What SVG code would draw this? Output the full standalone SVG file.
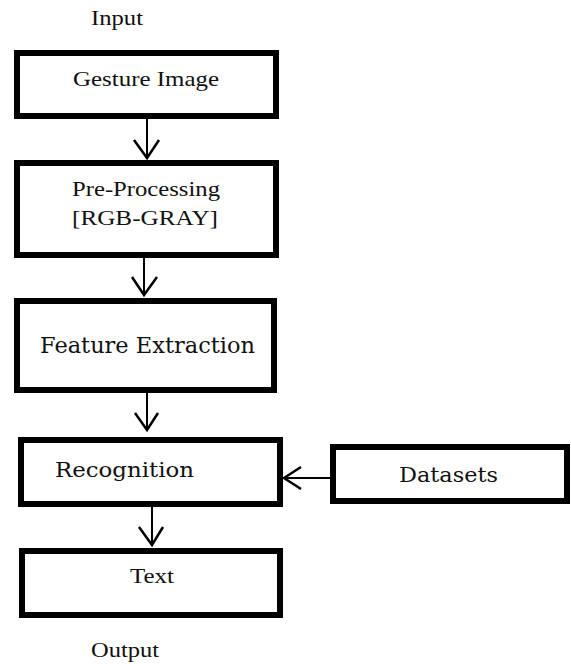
<svg xmlns="http://www.w3.org/2000/svg" width="571" height="664" viewBox="0 0 571 664">
<style>
.box{fill:#fff;stroke:#000;stroke-width:6}
.t{font-family:"Liberation Serif","Times New Roman",serif;font-size:21px;fill:#111}
.c{font-family:"DejaVu Serif","Liberation Serif",serif;font-size:21px;fill:#111}
.ln{stroke:#000;stroke-width:2;fill:none}
.hd{stroke:#000;stroke-width:2.5;fill:none;stroke-linejoin:miter}
</style>
<rect width="571" height="664" fill="#fff"/>
<text class="t" x="91" y="25" textLength="52" lengthAdjust="spacingAndGlyphs">Input</text>
<text class="t" x="91" y="657" textLength="68" lengthAdjust="spacingAndGlyphs">Output</text>
<g id="connectors">
<line class="ln" x1="147" y1="119" x2="147" y2="157"/>
<polyline class="hd" points="134,140 147,158 159,140"/>
<line class="ln" x1="144" y1="258" x2="144" y2="294"/>
<polyline class="hd" points="132,277 144,295 157,277"/>
<line class="ln" x1="147" y1="393" x2="147" y2="429"/>
<polyline class="hd" points="135,413 147,430 158,413"/>
<line class="ln" x1="152" y1="507" x2="152" y2="544"/>
<polyline class="hd" points="139,527 152,545 163,527"/>
<line class="ln" x1="331" y1="478" x2="284" y2="478"/>
<polyline class="hd" points="301,467 284,478 301,489"/>
</g>
<g id="gesture">
<rect class="box" x="17" y="53" width="259" height="63"/>
<text class="t" x="73" y="86" textLength="146" lengthAdjust="spacingAndGlyphs">Gesture Image</text>
</g>
<g id="preprocessing">
<rect class="box" x="17" y="163" width="259" height="92"/>
<text class="t" x="72" y="196" textLength="148" lengthAdjust="spacingAndGlyphs">Pre-Processing</text>
<text class="t" x="72" y="225" textLength="146" lengthAdjust="spacingAndGlyphs">[RGB-GRAY]</text>
</g>
<g id="feature">
<rect class="box" x="17" y="301" width="257" height="89"/>
<text class="c" x="40" y="353" font-size="23" textLength="215" lengthAdjust="spacingAndGlyphs" style="font-size:23px">Feature Extraction</text>
</g>
<g id="recognition">
<rect class="box" x="21" y="440" width="259" height="64"/>
<text class="c" x="55" y="477" textLength="139" lengthAdjust="spacingAndGlyphs">Recognition</text>
</g>
<g id="datasets">
<rect class="box" x="333" y="447" width="234" height="54"/>
<text class="c" x="399" y="482" textLength="99" lengthAdjust="spacingAndGlyphs">Datasets</text>
</g>
<g id="text">
<rect class="box" x="22" y="551" width="258" height="64"/>
<text class="t" x="130" y="583" textLength="44" lengthAdjust="spacingAndGlyphs">Text</text>
</g>
</svg>
